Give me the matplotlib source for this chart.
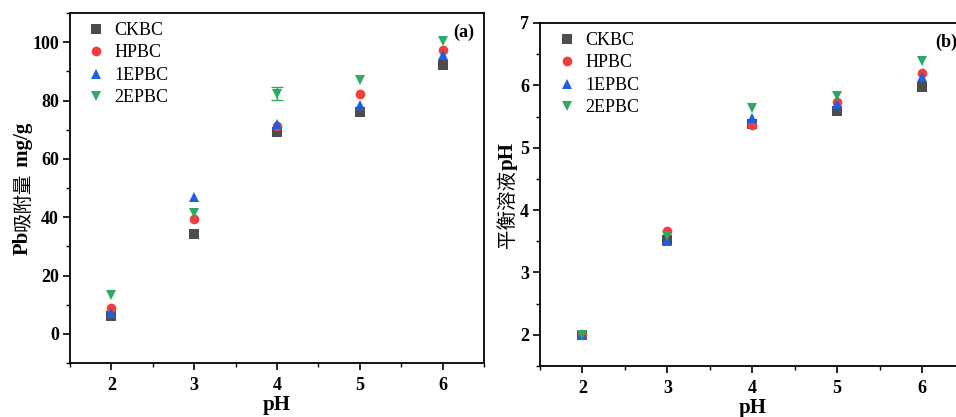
import matplotlib
matplotlib.use("Agg")
import matplotlib.pyplot as plt
from matplotlib.ticker import MultipleLocator
from matplotlib.font_manager import FontProperties

plt.rcParams['font.family'] = ['Liberation Serif', 'Noto Sans CJK SC', 'DejaVu Sans']

# ---------------- data ----------------
ph = [2, 3, 4, 5, 6]
series = ['CKBC', 'HPBC', '1EPBC', '2EPBC']

ads_ckbc = [6.0, 34.3, 69.2, 76.2, 92.3]
ads_hpbc = [9.0, 39.3, 71.3, 82.1, 97.2]
ads_1epbc = [7.0, 47.0, 71.8, 78.6, 95.5]
ads_2epbc = [13.2, 41.5, 82.3, 86.9, 100.3]
ads_err_ckbc = [0.0, 0.0, 0.0, 0.0, 0.0]
ads_err_hpbc = [0.0, 0.0, 0.0, 0.0, 0.0]
ads_err_1epbc = [0.0, 0.0, 0.0, 0.0, 0.0]
ads_err_2epbc = [0.0, 0.0, 2.2, 0.0, 0.0]

eq_ckbc = [1.99, 3.52, 5.38, 5.59, 5.97]
eq_hpbc = [2.00, 3.67, 5.37, 5.73, 6.20]
eq_1epbc = [2.01, 3.50, 5.47, 5.70, 6.13]
eq_2epbc = [2.00, 3.59, 5.63, 5.83, 6.39]

colors = ['#4d4d4d', '#f23d3d', '#1c5fe3', '#2ea862']
markers = ['s', 'o', '^', 'v']

W, H = 956, 417
fig = plt.figure(figsize=(W / 100, H / 100), dpi=100)

def px_axes(x0, y0, x1, y1):
    return fig.add_axes([x0 / W, 1 - y1 / H, (x1 - x0) / W, (y1 - y0) / H])

ax1 = px_axes(70, 13, 484, 363)
ax2 = px_axes(540, 23, 964.5, 366)

ads = [ads_ckbc, ads_hpbc, ads_1epbc, ads_2epbc]
ads_err = [ads_err_ckbc, ads_err_hpbc, ads_err_1epbc, ads_err_2epbc]
eq = [eq_ckbc, eq_hpbc, eq_1epbc, eq_2epbc]

for i, name in enumerate(series):
    sel = [k for k, e in enumerate(ads_err[i]) if e > 0]
    if sel:
        ax1.errorbar([ph[k] for k in sel], [ads[i][k] for k in sel],
                     yerr=[ads_err[i][k] for k in sel], fmt='none', ecolor=colors[i],
                     capsize=4, elinewidth=1, capthick=1, zorder=1)
for i, name in enumerate(series):
    ax1.plot(ph, ads[i], markers[i], color=colors[i], ms=7, mew=0, label=name, zorder=3 + i * 0.1)
    ax2.plot(ph, eq[i], markers[i], color=colors[i], ms=7, mew=0, label=name, zorder=3 + i * 0.1)

tick_font = dict(family='Liberation Serif', weight='bold', size=13)

def style(ax, ylim, ymajor, yminor, legx):
    ax.set_xlim(1.5, 6.5)
    ax.set_ylim(*ylim)
    ax.xaxis.set_major_locator(MultipleLocator(1))
    ax.xaxis.set_minor_locator(MultipleLocator(0.5))
    ax.yaxis.set_major_locator(MultipleLocator(ymajor))
    ax.yaxis.set_minor_locator(MultipleLocator(yminor))
    for s in ax.spines.values():
        s.set_linewidth(1.3)
    ax.tick_params(which='major', direction='out', length=5, width=1.2, pad=3)
    ax.tick_params(which='minor', direction='out', length=3, width=1.0)
    ax.xaxis.set_tick_params(pad=5)
    for lab in ax.get_xticklabels() + ax.get_yticklabels():
        lab.set_fontproperties(FontProperties(**tick_font))
    ax.set_xlabel('pH', family='Liberation Serif', weight='bold', size=15, labelpad=1)
    ax.legend(loc='upper left', bbox_to_anchor=(legx, 1.0), frameon=False,
              handlelength=1.0, handletextpad=0.5, labelspacing=0.3,
              borderaxespad=0.1, prop=dict(family='Liberation Serif', size=13))

style(ax1, (-10, 110), 20, 10, 0.02)
style(ax2, (1.5, 7), 1, 0.5, 0.021)

ax1.text(0.95, 0.945, '(a)', transform=ax1.transAxes, ha='center', va='center',
         family='Liberation Serif', weight='bold', size=13)
ax2.text(0.958, 0.943, '(b)', transform=ax2.transAxes, ha='center', va='center',
         family='Liberation Serif', weight='bold', size=13)

# compound rotated y labels (bold latin, regular CJK)
fig.canvas.draw()
renderer = fig.canvas.get_renderer()

def compound_label(x_base_px, yc_px, parts):
    texts = []
    lengths = []
    for s, props in parts:
        t = fig.text(0, 0, s, rotation=90, rotation_mode='anchor',
                     ha='left', va='baseline', transform=None, **props)
        bb = t.get_window_extent(renderer)
        texts.append(t)
        lengths.append(bb.height)
    total = sum(lengths)
    y = (H - yc_px) - total / 2
    for t, L in zip(texts, lengths):
        t.set_position((x_base_px, y))
        y += L

latin = dict(family='Liberation Serif', weight='bold', size=15)
cjk = dict(family='Noto Sans CJK SC', weight='normal', size=14)

compound_label(28, 189, [('Pb', latin), ('吸附量', cjk), (' mg/g', latin)])
compound_label(513, 195, [('平衡溶液', cjk), ('pH', latin)])

fig.savefig('out.png', dpi=100)
